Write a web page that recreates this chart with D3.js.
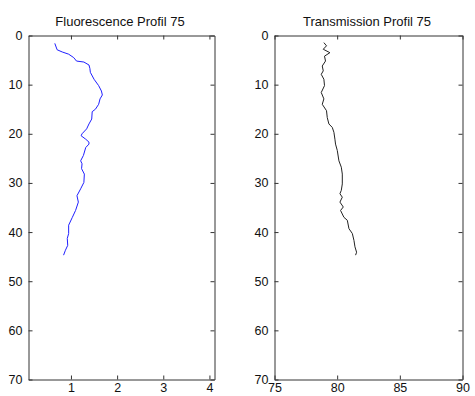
<!DOCTYPE html>
<html>
<head>
<meta charset="utf-8">
<script src="https://cdn.jsdelivr.net/npm/d3@7"></script>
<style>
  body { margin: 0; background: #fff; }
  svg { display: block; }
  text { font-family: "Liberation Sans", Arial, sans-serif; }
</style>
</head>
<body>
<div id="chart"></div>
<script>
// fluorescence profile (depth vs value)
const fluoDepth = [1.6, 2.9, 3.35, 3.8, 4.5, 5.2, 5.4, 6.0, 6.7, 7.5, 8.9, 10.2, 11.3, 12.1, 12.9, 14.0, 15.0, 15.5, 17.0, 18.0, 19.0, 20.0, 20.4, 21.1, 21.7, 22.1, 22.8, 24.4, 25.5, 26.1, 27.1, 28.2, 29.9, 31.2, 32.6, 33.9, 35.6, 37.0, 38.6, 40.3, 41.3, 42.7, 43.7, 44.7];
const fluoValue = [0.65, 0.70, 0.81, 0.95, 1.06, 1.12, 1.28, 1.39, 1.41, 1.42, 1.50, 1.60, 1.66, 1.68, 1.63, 1.60, 1.53, 1.46, 1.45, 1.39, 1.34, 1.24, 1.22, 1.32, 1.39, 1.39, 1.32, 1.27, 1.21, 1.24, 1.23, 1.29, 1.28, 1.21, 1.13, 1.16, 1.10, 1.03, 0.95, 0.95, 0.92, 0.93, 0.88, 0.84];

// transmission profile
const transDepth = [1.45, 2.1, 2.8, 3.5, 4.2, 5.2, 6.2, 7.2, 7.9, 8.9, 10.2, 11.6, 12.9, 14.0, 15.3, 16.7, 18.0, 18.7, 19.7, 21.1, 22.1, 23.4, 25.5, 26.8, 28.2, 30.2, 31.5, 32.2, 32.9, 33.9, 34.9, 35.6, 37.0, 37.6, 39.3, 40.3, 41.7, 43.0, 44.1, 44.7];
const transValue = [78.94, 79.15, 78.89, 79.42, 78.99, 79.07, 78.81, 78.89, 78.73, 78.94, 78.99, 78.73, 78.94, 78.81, 79.15, 79.21, 79.34, 79.61, 79.74, 79.82, 79.87, 80.01, 80.14, 80.33, 80.41, 80.41, 80.33, 80.22, 80.41, 80.22, 80.49, 80.27, 80.54, 80.81, 80.94, 81.21, 81.34, 81.42, 81.55, 81.47];

const depthTicks = [0, 10, 20, 30, 40, 50, 60, 70];
const fluoTicks = [1, 2, 3, 4];
const transTicks = [75, 80, 85, 90];

const width = 475;
const height = 396;

const svg = d3.select('#chart')
  .append('svg')
  .attr('width', width)
  .attr('height', height)
  .attr('viewBox', [0, 0, width, height]);

const y = d3.scaleLinear()
  .domain([0, 70])
  .range([35, 379]);

const panels = [
  { title: 'Fluorescence Profil 75', depth: fluoDepth, value: fluoValue, ticks: fluoTicks,
    domain: [0.08, 4.11], range: [28, 214], color: '#1f1fff' },
  { title: 'Transmission Profil 75', depth: transDepth, value: transValue, ticks: transTicks,
    domain: [75, 90], range: [274, 462], color: '#222' }
];

panels.forEach(p => {
  const x = d3.scaleLinear().domain(p.domain).range(p.range);
  const g = svg.append('g').attr('transform', 'translate(0.5,0.5)');

  // axes, ticks point inward like the matlab box
  const bottom = g.append('g')
    .attr('transform', `translate(0,${y.range()[1]})`)
    .call(d3.axisBottom(x).tickValues(p.ticks).tickFormat(d3.format('d'))
      .tickSizeInner(-4).tickSizeOuter(0).tickPadding(4));
  const top = g.append('g')
    .attr('transform', `translate(0,${y.range()[0]})`)
    .call(d3.axisTop(x).tickValues(p.ticks).tickSizeInner(-4).tickSizeOuter(0).tickFormat(''));
  const left = g.append('g')
    .attr('transform', `translate(${p.range[0]},0)`)
    .call(d3.axisLeft(y).tickValues(depthTicks).tickFormat(d3.format('d'))
      .tickSizeInner(-4).tickSizeOuter(0).tickPadding(6));
  const right = g.append('g')
    .attr('transform', `translate(${p.range[1]},0)`)
    .call(d3.axisRight(y).tickValues(depthTicks).tickSizeInner(-4).tickSizeOuter(0).tickFormat(''));

  [bottom, top, left, right].forEach(a => {
    a.selectAll('path').attr('stroke', '#333');
    a.selectAll('line').attr('stroke', '#333');
    a.selectAll('text')
      .attr('fill', '#111')
      .style('font-size', '12.5px');
  });

  const line = d3.line()
    .x((d, i) => x(p.value[i]))
    .y(d => y(d));

  g.append('path')
    .attr('fill', 'none')
    .attr('stroke', p.color)
    .attr('stroke-width', 1)
    .attr('d', line(p.depth));

  svg.append('text')
    .attr('x', (p.range[0] + p.range[1]) / 2 - 1)
    .attr('y', 26)
    .attr('text-anchor', 'middle')
    .attr('fill', '#111')
    .style('font-size', '13px')
    .text(p.title);
});
</script>
</body>
</html>
